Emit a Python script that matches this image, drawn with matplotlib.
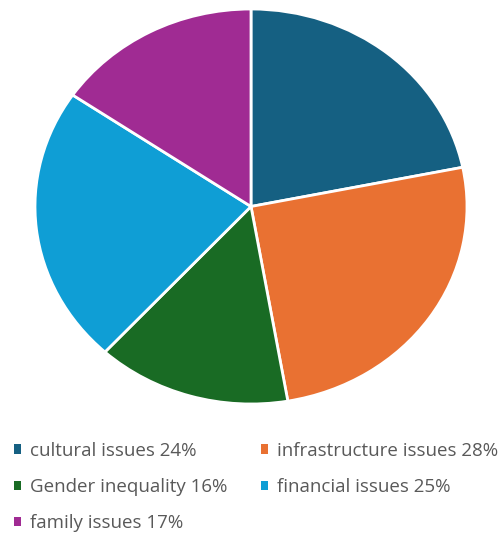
import matplotlib
matplotlib.use('Agg')
import matplotlib.pyplot as plt

plt.rcParams['font.family'] = ['Open Sans', 'DejaVu Sans']

labels = ['cultural issues', 'infrastructure issues', 'Gender inequality',
          'financial issues', 'family issues']
values = [24, 28, 16, 25, 17]
colors = ['#156082', '#E97132', '#196B24', '#0F9ED5', '#A02B93']

fig = plt.figure(figsize=(5.04, 5.35), dpi=100)
ax = fig.add_axes([35 / 504, (535 - 404) / 535, 432 / 504, 395 / 535])

wedges, _ = ax.pie(values, colors=colors, startangle=90, counterclock=False,
                   wedgeprops=dict(edgecolor='white', linewidth=2))
ax.set_aspect('auto')
ax.set_xlim(-1, 1)
ax.set_ylim(-1, 1)
ax.axis('off')

# legend is row-major in the reference, matplotlib fills columns first
order = [0, 2, 4, 1, 3]
leg = fig.legend([wedges[i] for i in order],
                 ['%s %d%%' % (labels[i], values[i]) for i in order],
                 loc='upper left', bbox_to_anchor=(0.0, 1 - 428 / 535),
                 ncol=2, frameon=False, fontsize=13.5,
                 handlelength=0.38, handleheight=0.38, handletextpad=0.48,
                 labelspacing=0.97, columnspacing=1.8, borderaxespad=0.33)
for t in leg.get_texts():
    t.set_color('#595959')
for h in leg.legend_handles:
    h.set_edgecolor('none')

fig.savefig('out.png', dpi=100)
